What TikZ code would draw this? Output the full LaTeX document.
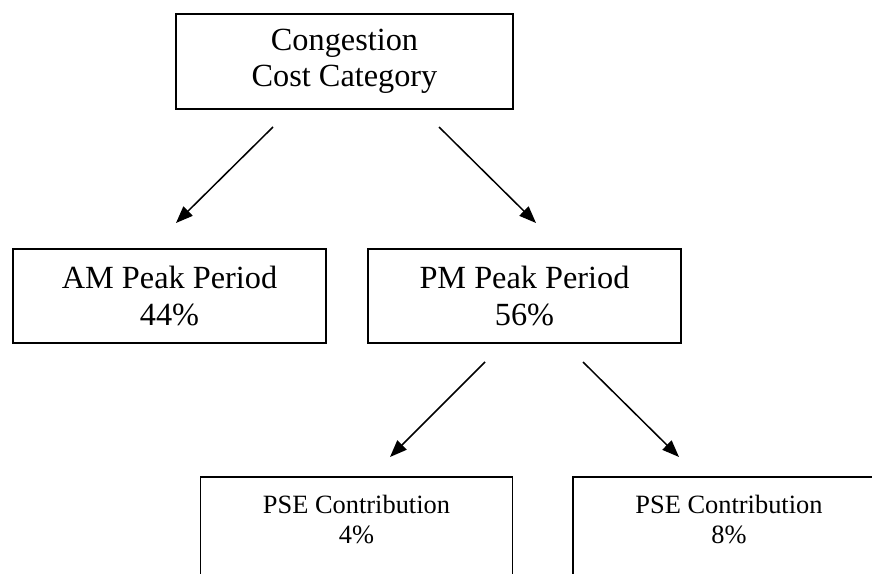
\documentclass[tikz,border=0pt]{standalone}
\usepackage{fontspec}
\setmainfont{Liberation Serif}
\usetikzlibrary{arrows.meta}
\tikzset{
    catbox/.style={draw, line width=1.6pt, align=center, minimum width=313pt, minimum height=94pt, inner sep=0pt, font=\fontsize{32.3}{36.5}\selectfont},
    psebox/.style={draw, line width=1.6pt, align=center, anchor=north, minimum width=312pt, inner xsep=0pt, inner ysep=18pt, font=\fontsize{26.4}{30}\selectfont},
    arr/.style={line width=1.5pt, -{Triangle[length=17pt,width=13pt]}}
}
\begin{document}
\begin{tikzpicture}[x=1pt,y=-1pt]
            \useasboundingbox (0,0) rectangle (872,573);
            \clip (0,0) rectangle (872,573);
            % Category
            \node[catbox, minimum width=337pt, minimum height=95pt] (cat) at (344.5,61.5) {Congestion\\Cost Category};
            
            % Peak periods
            \node[catbox] (am) at (169.5,296) {AM Peak Period\\44\%};
            \node[catbox] (pm) at (524.5,296) {PM Peak Period\\56\%};
            
            % PSE contributions (boxes run past the page edge)
            \node[psebox] (pse4) at (356.5,476) {PSE Contribution\\4\%\rule[-70pt]{0pt}{0pt}};
            \node[psebox] (pse8) at (729,476) {PSE Contribution\\8\%\rule[-70pt]{0pt}{0pt}};
            
            % Arrows (free ends, they do not touch the boxes)
            \coordinate (cat-am) at (273,127);
            \coordinate (cat-pm) at (439,127);
            \coordinate (am-in) at (176,223);
            \coordinate (pm-in) at (536,223);
            \coordinate (pm-4) at (485,362);
            \coordinate (pm-8) at (583,362);
            \coordinate (pse4-in) at (390,457);
            \coordinate (pse8-in) at (679,457);
            \draw[arr] (cat-am) -- (am-in);
            \draw[arr] (cat-pm) -- (pm-in);
            \draw[arr] (pm-4) -- (pse4-in);
            \draw[arr] (pm-8) -- (pse8-in);
\end{tikzpicture}
\end{document}
